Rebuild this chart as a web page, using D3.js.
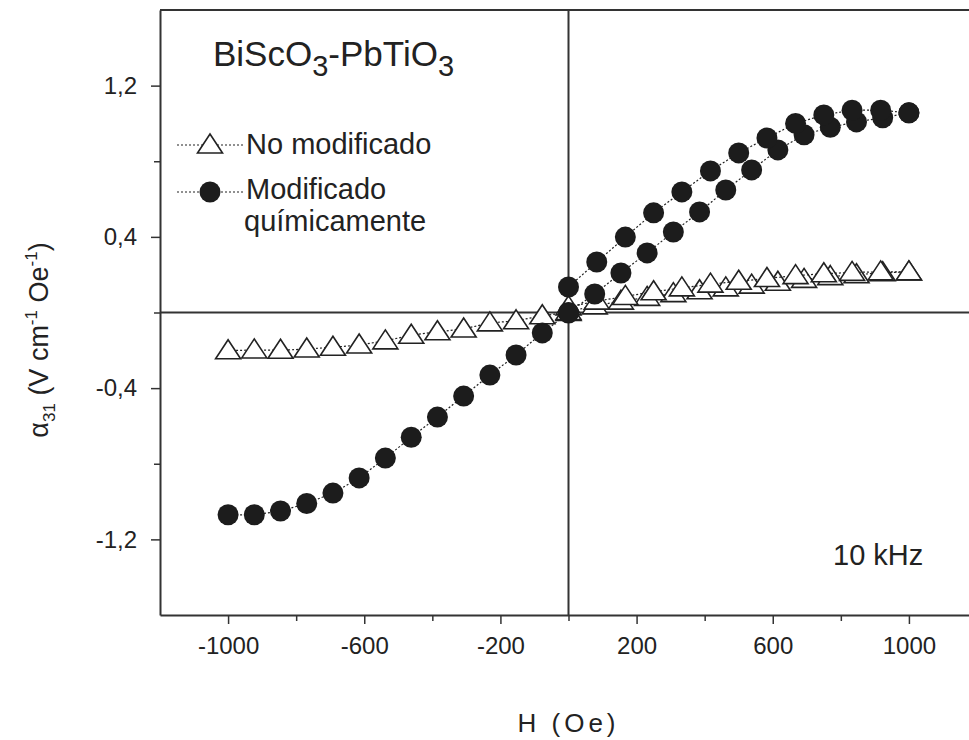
<!DOCTYPE html>
<html>
<head>
    <meta charset="utf-8">
    <title>BiScO3-PbTiO3</title>
    <style>
        body { margin: 0; background: #fff; }
        text { font-family: "Liberation Sans", Arial, sans-serif; fill: #222; }
    </style>
</head>
<body>
    <script src="https://cdnjs.cloudflare.com/ajax/libs/d3/7.9.0/d3.min.js"></script>
    <script>
        // field values (Oe) of each sweep
        const hNeg = [-1000, -923, -846, -769, -692, -615, -538, -462, -385, -308, -231, -154, -77, 0];
        const hUp = [0, 77, 154, 231, 308, 385, 462, 538, 615, 692, 769, 846, 923, 1000];
        const hDown = [1000, 917, 833, 750, 667, 583, 500, 417, 333, 250, 167, 83, 0];

        // alpha31 (V cm-1 Oe-1), no modificado
        const noNeg = [-0.202, -0.198, -0.2, -0.193, -0.184, -0.172, -0.15, -0.12, -0.102, -0.087, -0.055, -0.044, -0.017, 0.0];
        const noUp = [0.005, 0.035, 0.06, 0.08, 0.1, 0.115, 0.13, 0.145, 0.16, 0.175, 0.19, 0.2, 0.21, 0.215];
        const noDown = [0.215, 0.215, 0.212, 0.205, 0.195, 0.18, 0.165, 0.15, 0.13, 0.11, 0.085, 0.06, 0.03];

        // alpha31, modificado quimicamente
        const modNeg = [-1.07, -1.07, -1.05, -1.01, -0.955, -0.875, -0.77, -0.66, -0.553, -0.442, -0.331, -0.225, -0.108, -0.003];
        const modUp = [0.0, 0.098, 0.209, 0.315, 0.426, 0.532, 0.648, 0.754, 0.86, 0.94, 0.98, 1.008, 1.03, 1.056];
        const modDown = [1.056, 1.07, 1.07, 1.045, 1.0, 0.923, 0.844, 0.749, 0.638, 0.527, 0.399, 0.267, 0.135];

        const xTicks = [-1000, -600, -200, 200, 600, 1000];
        const xMinor = [-800, -400, 0, 400, 800];
        const yTicks = [-1.2, -0.4, 0.4, 1.2];
        const yMinor = [-0.8, 0, 0.8];

        const width = 969;
        const height = 740;

        const svg = d3.select("body")
            .append("svg")
            .attr("width", width)
            .attr("height", height);

        // right side of the frame runs past the picture edge
        const x = d3.scaleLinear().domain([-1200, 1200]).range([160, 977]);
        const y = d3.scaleLinear().domain([-1.6, 1.6]).range([615, 10]);

        const fmt = d => d3.format(".1f")(d).replace(".", ",").replace("\u2212", "-");

        svg.append("g")
            .attr("transform", `translate(0,${y(-1.6)})`)
            .call(d3.axisBottom(x).tickValues(xTicks).tickFormat(d => String(d))
                .tickSize(9).tickPadding(13).tickSizeOuter(0));
        svg.append("g")
            .attr("transform", `translate(0,${y(-1.6)})`)
            .call(d3.axisBottom(x).tickValues(xMinor).tickSize(6).tickFormat(""))
            .select(".domain").remove();

        svg.append("g")
            .attr("transform", `translate(${x(-1200)},0)`)
            .call(d3.axisLeft(y).tickValues(yTicks).tickFormat(fmt).tickSize(9).tickPadding(14).tickSizeOuter(0));
        svg.append("g")
            .attr("transform", `translate(${x(-1200)},0)`)
            .call(d3.axisLeft(y).tickValues(yMinor).tickSize(6).tickFormat(""))
            .select(".domain").remove();

        svg.selectAll(".domain").attr("stroke", "#333").attr("stroke-width", 2);
        svg.selectAll(".tick line").attr("stroke", "#333").attr("stroke-width", 1.5);
        svg.selectAll(".tick text")
            .attr("font-size", 24)
            .attr("font-family", "Liberation Sans, Arial, sans-serif")
            .attr("fill", "#222");

        // top frame and the zero lines
        svg.append("line")
            .attr("x1", x(-1200)).attr("x2", x(1200))
            .attr("y1", y(1.6)).attr("y2", y(1.6))
            .attr("stroke", "#333").attr("stroke-width", 2);
        svg.append("line")
            .attr("x1", x(-1200)).attr("x2", x(1200))
            .attr("y1", y(0)).attr("y2", y(0))
            .attr("stroke", "#333").attr("stroke-width", 2);
        svg.append("line")
            .attr("x1", x(0)).attr("x2", x(0))
            .attr("y1", y(1.6)).attr("y2", y(-1.6))
            .attr("stroke", "#333").attr("stroke-width", 2);

        const tri = "M0,-11L12.5,8L-12.5,8Z";

        const line = d3.line()
            .x(d => x(d[0]))
            .y(d => y(d[1]));

        function series(hs, vs, kind) {
            const pts = hs.map((h, i) => [h, vs[i]]);
            svg.append("path")
                .datum(pts)
                .attr("d", line)
                .attr("fill", "none")
                .attr("stroke", "#222")
                .attr("stroke-width", 1.2)
                .attr("stroke-dasharray", "2,2");

            if (kind == "tri") {
                svg.append("g").selectAll("path")
                    .data(pts)
                    .enter()
                    .append("path")
                    .attr("d", tri)
                    .attr("transform", d => `translate(${x(d[0])},${y(d[1])})`)
                    .attr("fill", "#fff")
                    .attr("stroke", "#222")
                    .attr("stroke-width", 1.6);
            } else {
                svg.append("g").selectAll("circle")
                    .data(pts)
                    .enter()
                    .append("circle")
                    .attr("cx", d => x(d[0]))
                    .attr("cy", d => y(d[1]))
                    .attr("r", 10.5)
                    .attr("fill", "#1c1c1c");
            }
        }

        series(hNeg, noNeg, "tri");
        series(hUp, noUp, "tri");
        series(hDown, noDown, "tri");
        series(hNeg, modNeg, "dot");
        series(hUp, modUp, "dot");
        series(hDown, modDown, "dot");

        // legend
        const title = svg.append("text")
            .attr("x", 213).attr("y", 66)
            .attr("font-size", 35);
        title.append("tspan").text("BiScO");
        title.append("tspan").attr("dy", 10).attr("font-size", 29).text("3");
        title.append("tspan").attr("dy", -10).text("-PbTiO");
        title.append("tspan").attr("dy", 10).attr("font-size", 29).text("3");

        svg.append("line")
            .attr("x1", 177).attr("x2", 245).attr("y1", 145).attr("y2", 145)
            .attr("stroke", "#222").attr("stroke-width", 1.2).attr("stroke-dasharray", "2,2");
        svg.append("path")
            .attr("d", tri)
            .attr("transform", "translate(210,145)")
            .attr("fill", "#fff").attr("stroke", "#222").attr("stroke-width", 1.6);
        svg.append("text").attr("x", 246).attr("y", 154).attr("font-size", 29).text("No modificado");

        svg.append("line")
            .attr("x1", 177).attr("x2", 245).attr("y1", 192).attr("y2", 192)
            .attr("stroke", "#222").attr("stroke-width", 1.2).attr("stroke-dasharray", "2,2");
        svg.append("circle").attr("cx", 210).attr("cy", 192).attr("r", 10.5).attr("fill", "#1c1c1c");
        svg.append("text").attr("x", 246).attr("y", 199).attr("font-size", 29).text("Modificado");
        svg.append("text").attr("x", 244).attr("y", 231).attr("font-size", 29).text("químicamente");

        svg.append("text").attr("x", 833).attr("y", 565).attr("font-size", 29).text("10 kHz");

        // axis titles
        svg.append("text")
            .attr("x", x(0)).attr("y", 732)
            .attr("text-anchor", "middle")
            .attr("font-size", 26)
            .attr("letter-spacing", 4)
            .text("H (Oe)");

        const yt = svg.append("text")
            .attr("transform", "translate(48,340) rotate(-90)")
            .attr("text-anchor", "middle")
            .attr("font-size", 27);
        yt.append("tspan").text("α");
        yt.append("tspan").attr("dy", 7).attr("font-size", 17).text("31");
        yt.append("tspan").attr("dy", -7).text(" (V cm");
        yt.append("tspan").attr("dy", -11).attr("font-size", 17).text("-1");
        yt.append("tspan").attr("dy", 11).text(" Oe");
        yt.append("tspan").attr("dy", -11).attr("font-size", 17).text("-1");
        yt.append("tspan").attr("dy", 11).text(")");
    </script>
</body>
</html>
